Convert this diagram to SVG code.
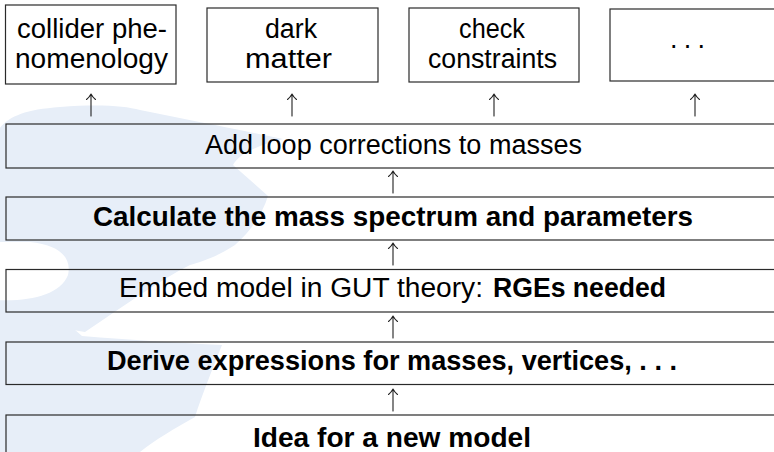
<svg xmlns="http://www.w3.org/2000/svg" width="774" height="452" viewBox="0 0 774 452">
  <style>
    .box { fill: none; stroke: #2a2a2a; stroke-width: 1.2; }
    .t { font-family: "Liberation Sans", Arial, sans-serif; font-size: 27px; fill: #000; }
    .b { font-weight: bold; }
    .arr { fill: none; stroke: #222; stroke-width: 1.1; stroke-linecap: round; stroke-linejoin: round; }
    .mark { fill: #e7eef8; }
  </style>
  <defs>
    <path id="up" d="M0,22 V0 M-4.5,5.5 Q-1.5,3 0,0 Q1.5,3 4.5,5.5"/>
  </defs>
  <rect width="774" height="452" fill="#fff"/>

  <!-- faint background emblem -->
  <g id="emblem">
    <path class="mark" d="M -5,135 C 5,118 20,110 60,107 C 100,104 125,106 140,110 C 190,120 240,130 283,139 C 255,146 238,155 233,165 L 268,196 C 262,215 250,232 235,245 C 215,258 200,262 190,265 C 160,280 125,305 85,332 L 73,330 L 0,318 L -5,318 L -5,300 C 30,302 60,295 68,275 C 72,258 60,245 30,242 L -5,242 Z"/>
    <path class="mark" d="M -5,316 L 74,329 L 82,336 C 130,340 180,343 222,345 C 212,370 202,395 195,417 C 175,428 155,440 140,452 L -5,452 Z"/>
  </g>

  <!-- connectors -->
  <g id="connectors" class="arr">
    <use href="#up" x="91" y="94"/>
    <use href="#up" x="292" y="94"/>
    <use href="#up" x="494" y="94"/>
    <use href="#up" x="695" y="94"/>
    <use href="#up" x="393" y="171"/>
    <use href="#up" x="393" y="243"/>
    <use href="#up" x="393" y="316"/>
    <use href="#up" x="393" y="389"/>
  </g>

  <!-- top row -->
  <g id="collider">
    <rect class="box" x="5.5" y="5" width="170.5" height="79"/>
    <text class="t" x="17" y="38" textLength="150" lengthAdjust="spacingAndGlyphs">collider phe-</text>
    <text class="t" x="15" y="68" textLength="153" lengthAdjust="spacingAndGlyphs">nomenology</text>
  </g>
  <g id="darkmatter">
    <rect class="box" x="207" y="8" width="171" height="74"/>
    <text class="t" x="265" y="38" textLength="52" lengthAdjust="spacingAndGlyphs">dark</text>
    <text class="t" x="245" y="68" textLength="87" lengthAdjust="spacingAndGlyphs">matter</text>
  </g>
  <g id="constraints">
    <rect class="box" x="409" y="8" width="170" height="74"/>
    <text class="t" x="459" y="38" textLength="66" lengthAdjust="spacingAndGlyphs">check</text>
    <text class="t" x="428" y="68" textLength="129" lengthAdjust="spacingAndGlyphs">constraints</text>
  </g>
  <g id="more">
    <rect class="box" x="610" y="9" width="171" height="72"/>
    <text class="t" x="670" y="48" textLength="35">. . .</text>
  </g>

  <!-- stacked steps -->
  <g id="loops">
    <rect class="box" x="6" y="124" width="774" height="44"/>
    <text class="t" x="205" y="154" textLength="377" lengthAdjust="spacingAndGlyphs">Add loop corrections to masses</text>
  </g>
  <g id="spectrum">
    <rect class="box" x="6" y="197" width="774" height="43"/>
    <text class="t b" x="93" y="226" textLength="600" lengthAdjust="spacingAndGlyphs">Calculate the mass spectrum and parameters</text>
  </g>
  <g id="gut">
    <rect class="box" x="6" y="269.5" width="774" height="42.5"/>
    <text class="t" x="119" y="297" textLength="364" lengthAdjust="spacingAndGlyphs">Embed model in GUT theory:</text>
    <text class="t b" x="493" y="297" textLength="173" lengthAdjust="spacingAndGlyphs">RGEs needed</text>
  </g>
  <g id="derive">
    <rect class="box" x="6" y="342" width="774" height="42.5"/>
    <text class="t b" x="107" y="370" textLength="570" lengthAdjust="spacingAndGlyphs">Derive expressions for masses, vertices, . . .</text>
  </g>
  <g id="idea">
    <rect class="box" x="6" y="415" width="774" height="44"/>
    <text class="t b" x="253" y="447" textLength="278" lengthAdjust="spacingAndGlyphs">Idea for a new model</text>
  </g>
</svg>
